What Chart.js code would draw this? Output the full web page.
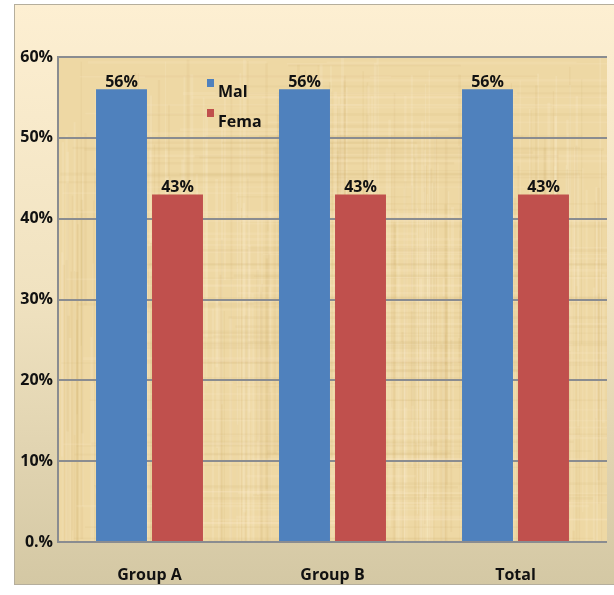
<!DOCTYPE html>
<html>
<head>
<meta charset="utf-8">
<script src="https://cdn.jsdelivr.net/npm/chart.js@4.4.1/dist/chart.umd.min.js"></script>
<style>
  html, body { margin: 0; padding: 0; background: #ffffff; }
  #wrap { width: 614px; height: 595px; }
</style>
</head>
<body>
<div id="wrap"><canvas id="c" width="614" height="595"></canvas></div>
<script>
// Chart data
const categories = ['Group A', 'Group B', 'Total'];
const maleValues = [56, 56, 56];
const femaleValues = [43, 43, 43];
const seriesNames = ['Mal', 'Fema'];
const yTickLabels = { 0: '0.%', 10: '10%', 20: '20%', 30: '30%', 40: '40%', 50: '50%', 60: '60%' };

const FONT = '"Open Sans", "Noto Sans", "DejaVu Sans", sans-serif';

// Papyrus-like fibre texture for the plot background (seeded, deterministic)
function makeTexture(w, h) {
  const cv = document.createElement('canvas');
  cv.width = w; cv.height = h;
  const g = cv.getContext('2d');
  g.fillStyle = '#eed8a4';
  g.fillRect(0, 0, w, h);
  let s = 24681;
  const rnd = () => { s = (s * 1103515245 + 12345) & 0x7fffffff; return s / 0x7fffffff; };
  // fine vertical fibres
  for (let i = 0; i < 420; i++) {
    const x = rnd() * w;
    const y0 = rnd() * h * 0.6;
    const len = h * (0.3 + rnd() * 0.7);
    const light = rnd() > 0.45;
    g.fillStyle = light ? 'rgba(252,238,204,0.22)' : 'rgba(205,170,110,0.12)';
    g.fillRect(x, y0, 1 + rnd() * 2, len);
  }
  // faint horizontal fibres
  for (let i = 0; i < 160; i++) {
    const y = rnd() * h;
    const x0 = rnd() * w * 0.5;
    const len = w * (0.3 + rnd() * 0.7);
    const light = rnd() > 0.5;
    g.fillStyle = light ? 'rgba(252,238,204,0.16)' : 'rgba(200,165,105,0.09)';
    g.fillRect(x0, y, len, 1 + rnd() * 2);
  }
  return cv;
}

const framePlugin = {
  id: 'frame',
  beforeDraw(chart) {
    const ctx = chart.ctx;
    const a = chart.chartArea;
    ctx.save();
    // outer panel
    const grd = ctx.createLinearGradient(0, 4, 0, 584);
    grd.addColorStop(0, '#fdefd2');
    grd.addColorStop(0.5, '#f0e2c0');
    grd.addColorStop(1, '#d4c8a4');
    ctx.fillStyle = grd;
    ctx.fillRect(14, 4, 620, 580);
    ctx.strokeStyle = '#b5ae9c';
    ctx.lineWidth = 1;
    ctx.strokeRect(14.5, 4.5, 620, 580);
    // plot texture
    const tex = makeTexture(Math.round(a.right - a.left), Math.round(a.bottom - a.top));
    ctx.drawImage(tex, a.left, a.top);
    ctx.restore();
  }
};

const labelPlugin = {
  id: 'valueLabels',
  afterDatasetsDraw(chart) {
    const ctx = chart.ctx;
    ctx.save();
    ctx.font = 'bold 16px ' + FONT;
    ctx.fillStyle = '#111111';
    ctx.textAlign = 'center';
    ctx.textBaseline = 'alphabetic';
    chart.data.datasets.forEach((ds, di) => {
      chart.getDatasetMeta(di).data.forEach((bar, i) => {
        ctx.fillText(ds.data[i] + '%', bar.x, bar.y - 2);
      });
    });
    ctx.restore();
  }
};

const legendPlugin = {
  id: 'innerLegend',
  afterDraw(chart) {
    const ctx = chart.ctx;
    ctx.save();
    ctx.font = 'bold 16px ' + FONT;
    ctx.textBaseline = 'alphabetic';
    ctx.textAlign = 'left';
    chart.data.datasets.forEach((ds, i) => {
      const y = 79 + i * 30;
      ctx.fillStyle = ds.backgroundColor;
      ctx.fillRect(207, y, 7, 8);
      ctx.fillStyle = '#111111';
      ctx.fillText(ds.label, 218, y + 18);
    });
    ctx.restore();
  }
};

new Chart(document.getElementById('c'), {
  type: 'bar',
  data: {
    labels: categories,
    datasets: [
      { label: seriesNames[0], data: maleValues, backgroundColor: '#4f81bd' },
      { label: seriesNames[1], data: femaleValues, backgroundColor: '#c0504d' }
    ]
  },
  options: {
    responsive: false,
    animation: false,
    devicePixelRatio: 1,
    categoryPercentage: 0.612,
    barPercentage: 0.91,
    layout: { padding: { top: 57, right: 7, left: 0, bottom: 0 } },
    plugins: { legend: { display: false }, tooltip: { enabled: false } },
    scales: {
      x: {
        grid: { display: false, drawTicks: false },
        border: { display: false },
        ticks: { color: '#111111', font: { family: FONT, size: 16, weight: 'bold' }, padding: 24 },
        afterFit(scale) { scale.height = 53; }
      },
      y: {
        min: 0, max: 60,
        grid: { color: '#8a8c90', lineWidth: 2, drawTicks: false },
        border: { display: true, color: '#8a8c90', width: 2 },
        ticks: {
          stepSize: 10,
          color: '#111111',
          font: { family: FONT, size: 16, weight: 'bold' },
          padding: 5,
          callback: (v) => yTickLabels[v]
        },
        afterFit(scale) { scale.width = 58; }
      }
    }
  },
  plugins: [framePlugin, labelPlugin, legendPlugin]
});
</script>
</body>
</html>
